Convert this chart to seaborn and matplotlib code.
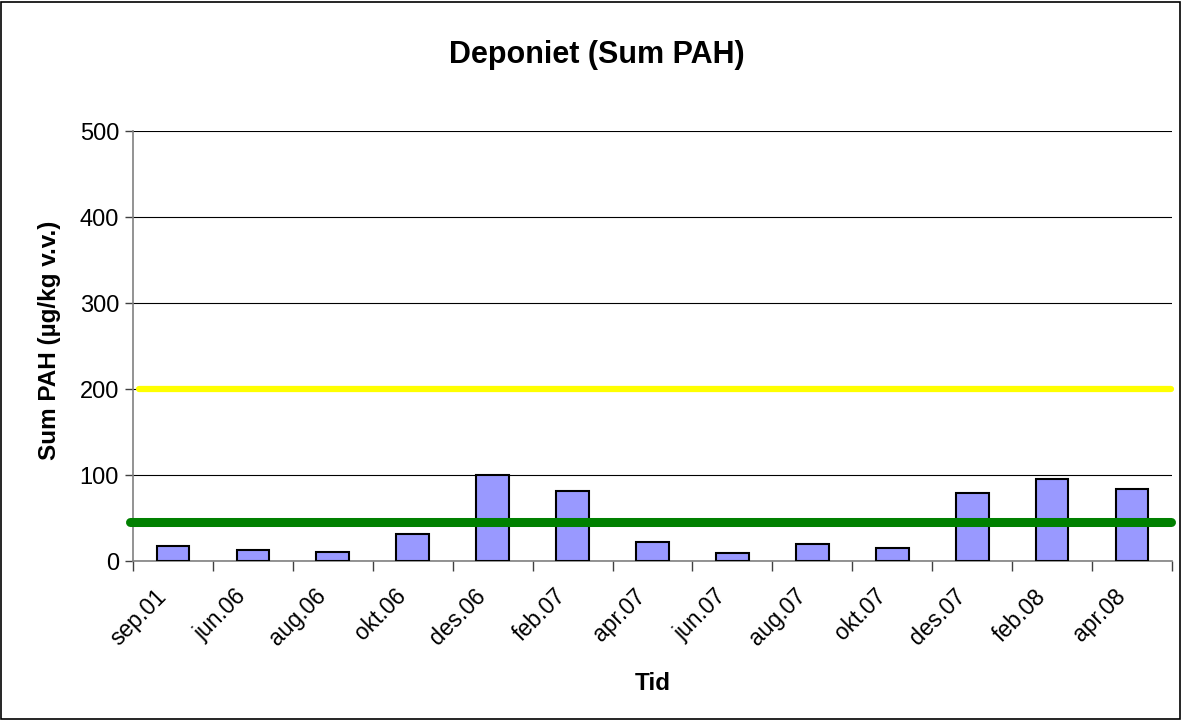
import matplotlib
matplotlib.use("Agg")
import matplotlib.pyplot as plt
import seaborn as sns
import numpy as np
import pandas as pd

categories = ["sep.01", "jun.06", "aug.06", "okt.06", "des.06", "feb.07", "apr.07",
              "jun.07", "aug.07", "okt.07", "des.07", "feb.08", "apr.08"]
values = [17, 13, 11, 31, 100, 81, 22, 9, 20, 15, 79, 95, 84]
limit_low = 45
limit_high = 200
yticks = [0, 100, 200, 300, 400, 500]

sns.set_theme(style="white")
plt.rcParams['font.family'] = ['Liberation Sans', 'DejaVu Sans']
plt.rcParams['text.color'] = 'black'
plt.rcParams['xtick.labelcolor'] = 'black'
plt.rcParams['ytick.labelcolor'] = 'black'

df = pd.DataFrame({"Tid": categories, "Sum": values})

fig = plt.figure(figsize=(11.82, 7.2), dpi=100)
ax = fig.add_axes([133/1182, 1-561/720, (1172-133)/1182, (561-131)/720])

sns.barplot(data=df, x="Tid", y="Sum", ax=ax, color="#9999FF", saturation=1,
            width=0.41, edgecolor="black", linewidth=1.5, zorder=3)

ax.set_ylim(0, 500)
ax.set_xlim(-0.5, len(categories) - 0.5)
ax.set_yticks(yticks)
ax.set_yticklabels([str(v) for v in yticks], fontsize=17)
ax.yaxis.grid(True, color="black", linewidth=0.8, zorder=0)
ax.set_axisbelow(True)

ax.axhline(limit_high, xmin=0.006, xmax=0.999, color="#FFFF00", linewidth=4.5, zorder=4, clip_on=False)
ax.axhline(limit_low, xmin=-0.003, xmax=0.999, color="#008000", linewidth=6.5, zorder=5, clip_on=False)

for s in ["top", "right"]:
    ax.spines[s].set_visible(False)
for s in ["left", "bottom"]:
    ax.spines[s].set_color("#808080")
    ax.spines[s].set_linewidth(1.2)

# labels anchored left of category centres, like the original
ax.set_xticks(np.arange(len(categories)) - 0.23)
ax.set_xticklabels(categories, rotation=45, ha="right", va="top",
                   rotation_mode="anchor", fontsize=16.5)
ax.set_xticks(np.arange(-0.5, len(categories), 1), minor=True)
ax.tick_params(axis="x", which="major", length=0, pad=17)
ax.tick_params(axis="x", which="minor", length=7, color="#404040", width=1, direction="out", bottom=True)
ax.tick_params(axis="y", length=6, color="#404040", width=1, direction="out", left=True, pad=4)

ax.set_xlabel("")
ax.set_ylabel("")

fig.text(0.505, 1-55/720, "Deponiet (Sum PAH)", ha="center", va="center",
         fontsize=22, fontweight="bold")
fig.text(50/1182, 1-340/720, "Sum PAH (µg/kg v.v.)", ha="center", va="center",
         rotation=90, fontsize=17.5, fontweight="bold")
fig.text(653/1182, 1-683/720, "Tid", ha="center", va="center",
         fontsize=17.5, fontweight="bold")

border = plt.Rectangle((1/1182, 1/720), 1-3/1182, 1-3/720, transform=fig.transFigure,
                       fill=False, edgecolor="black", linewidth=1.2)
fig.patches.append(border)

fig.savefig("out.png", dpi=100)
